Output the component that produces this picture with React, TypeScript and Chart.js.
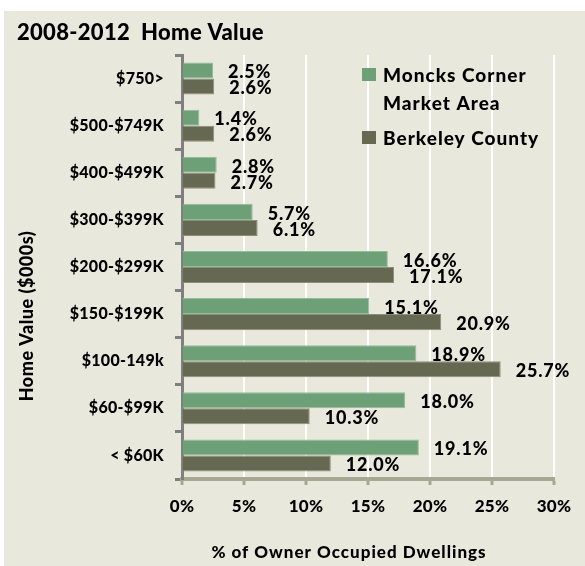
import React, { useEffect, useRef } from "react";
import { Chart, registerables } from "chart.js";

Chart.register(...registerables);

const categories = ["$750>", "$500-$749K", "$400-$499K", "$300-$399K", "$200-$299K", "$150-$199K", "$100-149k", "$60-$99K", "< $60K"];
const moncksCorner = [2.5, 1.4, 2.8, 5.7, 16.6, 15.1, 18.9, 18.0, 19.1];
const berkeley = [2.6, 2.6, 2.7, 6.1, 17.1, 20.9, 25.7, 10.3, 12.0];
const seriesNames = ["Moncks Corner Market Area", "Berkeley County"];
const xTicks = [0, 5, 10, 15, 20, 25, 30];

const FONT = "Lato, 'Open Sans', sans-serif";
const W = "900";
const GREEN = "#6EA077";
const DARK = "#666952";

const decorPlugin = {
  id: "decor",
  beforeDraw(chart: any) {
    const ctx = chart.ctx;
    ctx.save();
    ctx.fillStyle = "#ffffff";
    ctx.fillRect(0, 0, chart.width, chart.height);
    ctx.fillStyle = "#E9E8DD";
    ctx.fillRect(4, 11, chart.width - 4, chart.height - 11);
    ctx.restore();
    ctx.letterSpacing = "0.3px";
  },
  afterDraw(chart: any) {
    const ctx = chart.ctx;
    ctx.save();
    ctx.fillStyle = "#000";
    // title
    ctx.font = `${W} 22px ${FONT}`;
    ctx.letterSpacing = "0.3px";
    ctx.textAlign = "left";
    ctx.textBaseline = "alphabetic";
    ctx.fillText("2008-2012  Home Value", 17, 40);
    // legend
    ctx.font = `${W} 19px ${FONT}`;
    ctx.letterSpacing = "1px";
    ctx.fillStyle = GREEN;
    ctx.fillRect(362, 68, 14, 13);
    ctx.fillStyle = DARK;
    ctx.fillRect(362, 131, 14, 13);
    ctx.fillStyle = "#000";
    ctx.fillText("Moncks Corner", 383, 82);
    ctx.fillText("Market Area", 383, 110);
    ctx.fillText("Berkeley County", 383, 145);
    // axis titles
    ctx.font = `${W} 17px ${FONT}`;
    ctx.letterSpacing = "1px";
    ctx.textAlign = "center";
    ctx.fillText("% of Owner Occupied Dwellings", 349, 558);
    ctx.save();
    ctx.font = `${W} 18px ${FONT}`;
    ctx.letterSpacing = "0.5px";
    ctx.translate(33, 316);
    ctx.rotate(-Math.PI / 2);
    ctx.fillText("Home Value ($000s)", 0, 0);
    ctx.restore();
    // value labels
    ctx.font = `${W} 18px ${FONT}`;
    ctx.letterSpacing = "0.8px";
    ctx.textAlign = "left";
    ctx.textBaseline = "middle";
    chart.data.datasets.forEach((ds: any, di: number) => {
      const meta = chart.getDatasetMeta(di);
      meta.data.forEach((bar: any, i: number) => {
        const v = ds.data[i];
        ctx.fillText(v.toFixed(1) + "%", bar.x + 15, bar.y + 2);
      });
    });
    ctx.restore();
  },
};

export default function App() {
  const ref = useRef<HTMLCanvasElement>(null);
  useEffect(() => {
    document.body.style.margin = "0";
    const chart = new Chart(ref.current as HTMLCanvasElement, {
      type: "bar",
      data: {
        labels: categories,
        datasets: [
          {
            label: seriesNames[0],
            data: moncksCorner,
            backgroundColor: GREEN,
            borderColor: "#93BC99",
            borderWidth: 1,
            categoryPercentage: 0.68,
            barPercentage: 1,
          },
          {
            label: seriesNames[1],
            data: berkeley,
            backgroundColor: DARK,
            borderColor: "#8C8E7A",
            borderWidth: 1,
            categoryPercentage: 0.68,
            barPercentage: 1,
          },
        ],
      },
      options: {
        indexAxis: "y",
        animation: false,
        responsive: false,
        layout: { padding: { top: 55, right: 31, left: 0, bottom: 0 } },
        plugins: {
          legend: { display: false },
          title: { display: false },
          tooltip: { enabled: false },
        },
        scales: {
          x: {
            min: 0,
            max: 30,
            afterFit: (s: any) => {
              s.height = 87;
            },
            afterBuildTicks: (s: any) => {
              s.ticks = xTicks.map((v) => ({ value: v }));
            },
            ticks: {
              callback: (v: any) => v + "%",
              color: "#000",
              font: { family: FONT, size: 17, weight: W },
              padding: 11,
              maxRotation: 0,
            },
            grid: {
              color: "#ffffff",
              lineWidth: 2,
              drawTicks: true,
              tickLength: 6,
              tickColor: "#A6A893",
              tickWidth: 3,
            },
            border: { color: "#A6A893", width: 4 },
          },
          y: {
            afterFit: (s: any) => {
              s.width = 182;
            },
            ticks: {
              color: "#000",
              font: { family: FONT, size: 16, weight: W },
              padding: 11,
            },
            grid: {
              drawOnChartArea: false,
              drawTicks: true,
              tickLength: 7,
              tickColor: "#7F7F7F",
              tickWidth: 3,
            },
            border: { color: "#7F7F7F", width: 3 },
          },
        },
      },
      plugins: [decorPlugin],
    } as any);
    return () => chart.destroy();
  }, []);
  return <canvas ref={ref} width={585} height={566} style={{ display: "block" }} />;
}
